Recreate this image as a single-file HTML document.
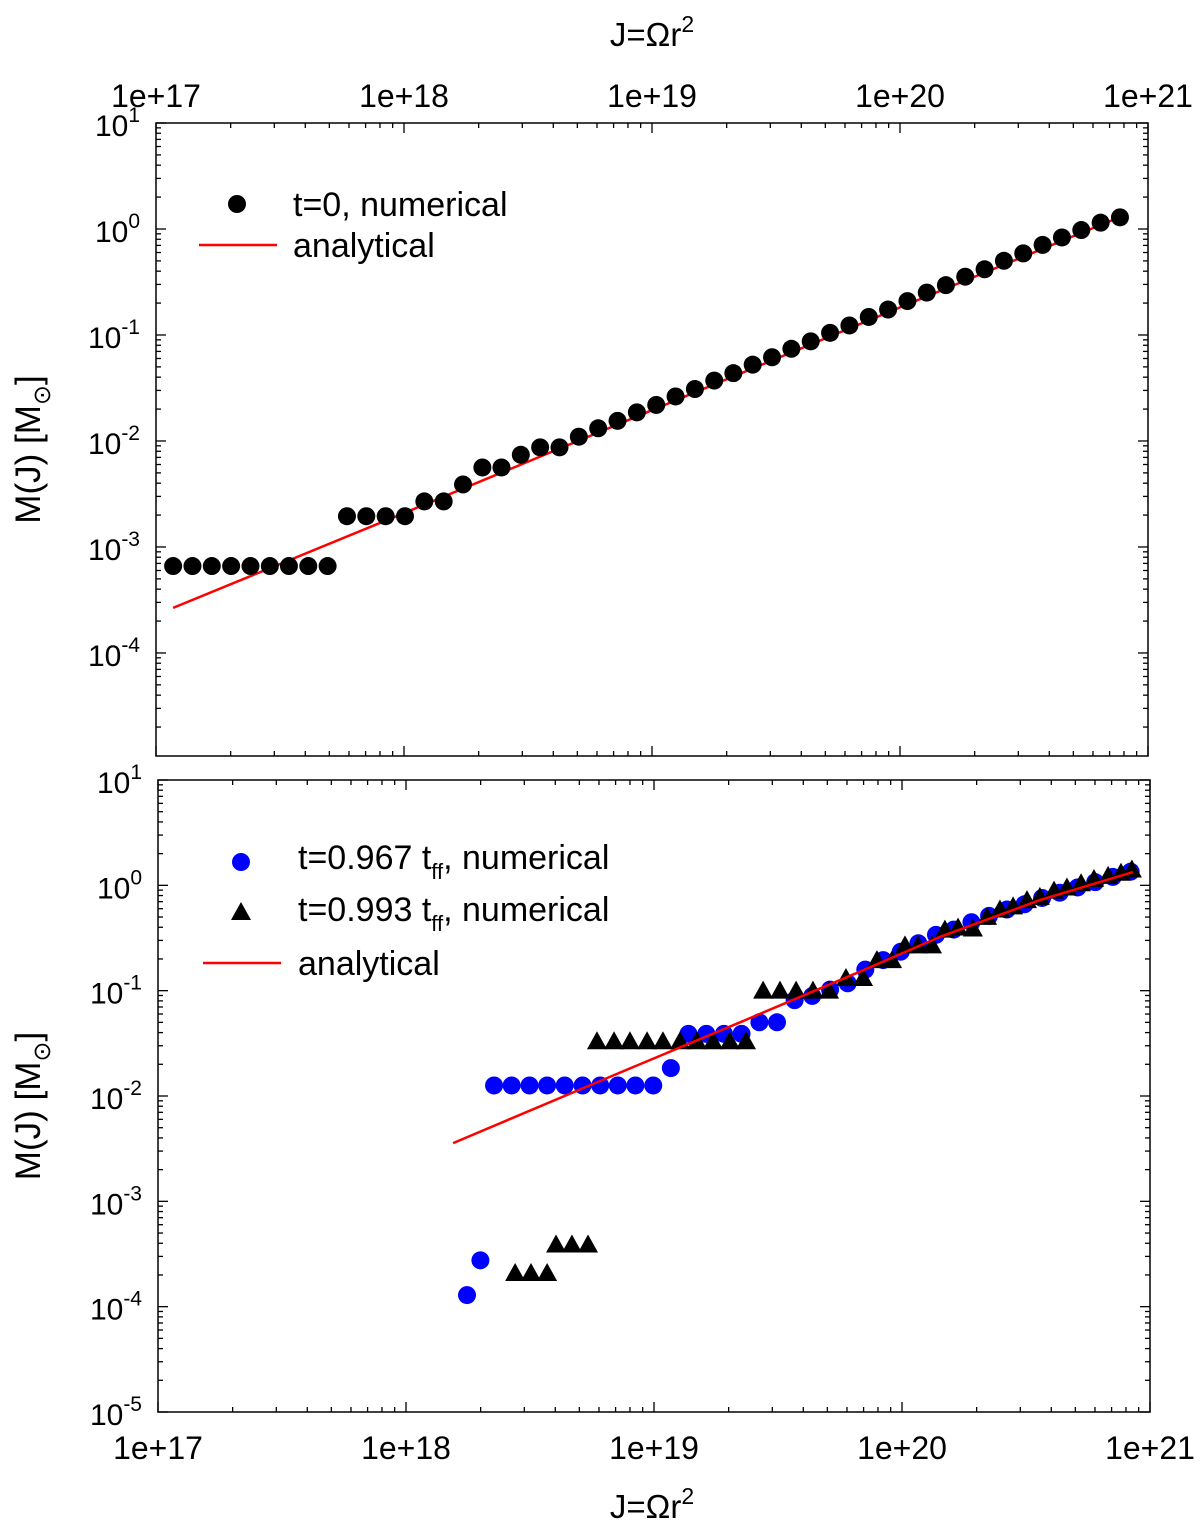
<!DOCTYPE html>
<html><head><meta charset="utf-8"><style>
html,body{margin:0;padding:0;background:#fff}
svg text{font-family:"Liberation Sans",Arial,sans-serif;fill:#000}
</style></head><body>
<svg id="chart" width="1200" height="1533" xmlns="http://www.w3.org/2000/svg"></svg>
<script>
// Top panel data (log10 J, log10 M)
const topJ=[17.069,17.147,17.225,17.303,17.381,17.459,17.536,17.614,17.692,17.770,17.848,17.926,18.004,18.082,18.160,18.238,18.316,18.393,18.471,18.549,18.627,18.705,18.783,18.861,18.939,19.017,19.095,19.173,19.251,19.328,19.406,19.484,19.562,19.640,19.718,19.796,19.874,19.952,20.030,20.108,20.185,20.263,20.341,20.419,20.497,20.575,20.653,20.731,20.809,20.887];
const topM=[-3.18,-3.18,-3.18,-3.18,-3.18,-3.18,-3.18,-3.18,-3.18,-2.71,-2.71,-2.71,-2.71,-2.57,-2.57,-2.41,-2.25,-2.25,-2.13,-2.06,-2.06,-1.96,-1.88,-1.81,-1.73,-1.66,-1.58,-1.51,-1.43,-1.36,-1.28,-1.21,-1.13,-1.06,-0.98,-0.91,-0.83,-0.76,-0.68,-0.60,-0.53,-0.45,-0.38,-0.30,-0.23,-0.15,-0.08,-0.01,0.06,0.11];
const topAnaJ=[17.069,18.0,19.0,20.0,20.887];
const topAnaM=[-3.575,-2.68,-1.71,-0.74,0.113];
// Bottom panel data
const blueJ=[18.246,18.300,18.355,18.426,18.498,18.569,18.640,18.712,18.783,18.854,18.925,18.997,19.068,19.139,19.211,19.282,19.353,19.425,19.496,19.567,19.638,19.710,19.781,19.852,19.924,19.995,20.066,20.137,20.209,20.280,20.351,20.423,20.494,20.565,20.636,20.708,20.779,20.850,20.922];
const blueM=[-3.89,-3.56,-1.90,-1.90,-1.90,-1.90,-1.90,-1.90,-1.90,-1.90,-1.90,-1.90,-1.735,-1.41,-1.41,-1.41,-1.41,-1.30,-1.30,-1.09,-1.05,-0.99,-0.93,-0.80,-0.71,-0.63,-0.55,-0.47,-0.42,-0.35,-0.29,-0.23,-0.18,-0.12,-0.07,-0.02,0.03,0.08,0.13];
const triJ=[18.440,18.504,18.569,18.605,18.669,18.734,18.770,18.839,18.903,18.972,19.036,19.105,19.173,19.238,19.306,19.371,19.440,19.508,19.573,19.641,19.706,19.774,19.843,19.899,19.960,20.012,20.065,20.121,20.173,20.226,20.286,20.343,20.395,20.448,20.504,20.556,20.613,20.665,20.722,20.774,20.831,20.883,20.927];
const triM=[-3.68,-3.68,-3.68,-3.41,-3.41,-3.41,-1.48,-1.48,-1.48,-1.48,-1.48,-1.48,-1.48,-1.48,-1.48,-1.48,-1.00,-1.00,-1.00,-1.00,-1.00,-0.88,-0.88,-0.71,-0.71,-0.57,-0.57,-0.57,-0.42,-0.40,-0.41,-0.30,-0.23,-0.20,-0.14,-0.11,-0.05,-0.02,0.02,0.06,0.09,0.12,0.15];
const botAnaJ=[18.190,18.81,19.347,19.83,20.153,20.556,20.931];
const botAnaM=[-2.447,-1.83,-1.30,-0.82,-0.49,-0.14,0.126];
const xTickLabels=["1e+17","1e+18","1e+19","1e+20","1e+21"];

const NS="http://www.w3.org/2000/svg";
const svg=document.getElementById('chart');
function el(tag,attrs,parent){const e=document.createElementNS(NS,tag);for(const k in attrs)e.setAttribute(k,attrs[k]);(parent||svg).appendChild(e);return e;}

function panel(P,name){
  const g=el('g',{});
  
  
  P.sx=v=>P.x0+(v-17)/4*(P.x1-P.x0);
  P.sy=v=>P.y1-(v-P.ymin)/(P.ymax-P.ymin)*(P.y1-P.y0);
  const fr=el('rect',{x:P.x0,y:P.y0,width:P.x1-P.x0,height:P.y1-P.y0,fill:'none',stroke:'#000','stroke-width':1.5},g);
  
  
  for(let d=17;d<=21;d++){
    for(let m=1;m<=9;m++){
      const v=d+Math.log10(m); if(v>21.0001) break;
      const x=P.sx(v), L=m==1?10:5;
      el('line',{x1:x,x2:x,y1:P.y1,y2:P.y1-L,stroke:'#000','stroke-width':1.3},g);
      el('line',{x1:x,x2:x,y1:P.y0,y2:P.y0+L,stroke:'#000','stroke-width':1.3},g);
    }
  }
  for(let d=Math.floor(P.ymin);d<=P.ymax;d++){
    for(let m=1;m<=9;m++){
      const v=d+Math.log10(m); if(v>P.ymax+0.0001) break; if(v<P.ymin) continue;
      const y=P.sy(v), L=m==1?10:5;
      el('line',{x1:P.x0,x2:P.x0+L,y1:y,y2:y,stroke:'#000','stroke-width':1.3},g);
      el('line',{x1:P.x1,x2:P.x1-L,y1:y,y2:y,stroke:'#000','stroke-width':1.3},g);
    }
    if(d<P.ymin-0.001) continue;
    const t=el('text',{x:P.x0-16,y:P.sy(d)+13,'font-size':30,'text-anchor':'end'},g);
    
    
    t.innerHTML='10<tspan dy="-14" font-size="21">'+d+'</tspan>';
  }
  xTickLabels.forEach((s,i)=>{
    const t=el('text',{x:P.sx(17+i),y:P.labelY,'font-size':32,'text-anchor':'middle'},g);
    
    
    t.textContent=s;
  });
  const yt=el('text',{transform:`translate(${P.ytx},${(P.y0+P.y1)/2+10}) rotate(-90)`,'font-size':35,'text-anchor':'middle'},g);
  
  
  yt.innerHTML='M(J) [M<tspan dy="10" font-size="24">⊙</tspan><tspan dy="-10">]</tspan>';
  return g;
}
function line(P,g,J,M,name){
  const d=J.map((v,i)=>(i?'L':'M')+P.sx(v).toFixed(1)+','+P.sy(M[i]).toFixed(1)).join('');
  const p=el('path',{d:d,fill:'none',stroke:'#f00','stroke-width':2.5},g);
  
  
}
function dots(P,g,J,M,color,name){
  J.forEach((v,i)=>{
    const c=el('circle',{cx:P.sx(v),cy:P.sy(M[i]),r:9,fill:color},g);
    
    
  });
}
function tris(P,g,J,M,name){
  J.forEach((v,i)=>{
    const x=P.sx(v),y=P.sy(M[i]);
    const t=el('polygon',{points:`${x-10},${y+8} ${x+10},${y+8} ${x},${y-10}`,fill:'#000'},g);
    
    
  });
}

const PT={x0:156,x1:1148,y0:123,y1:756,ymin:-4.972,ymax:1,labelY:107,ytx:40};
const gT=panel(PT,'top-panel');
line(PT,gT,topAnaJ,topAnaM,'analytical-line-top');
dots(PT,gT,topJ,topM,'#000','numerical-point-t0');

const PB={x0:158,x1:1150,y0:780,y1:1412,ymin:-5,ymax:1,labelY:1459,ytx:40};
const gB=panel(PB,'bottom-panel');
dots(PB,gB,blueJ,blueM,'#00f','numerical-point-t0967');
tris(PB,gB,triJ,triM,'numerical-point-t0993');
line(PB,gB,botAnaJ,botAnaM,'analytical-line-bottom');

function title(y,name){
  const t=el('text',{x:652,y:y,'font-size':33,'text-anchor':'middle'});
  
  
  t.innerHTML='J=Ωr<tspan dy="-14" font-size="23">2</tspan>';
}
title(46,'x-axis-title-top');
title(1518,'x-axis-title-bottom');

function legText(x,y,html,name){
  const t=el('text',{x:x,y:y,'font-size':34});
  
  
  t.innerHTML=html;
}
let c=el('circle',{cx:237,cy:204,r:9,fill:'#000'});


legText(293,216,'t=0, numerical','legend-entry-t0');
let l=el('line',{x1:199,x2:277,y1:245,y2:245,stroke:'#f00','stroke-width':2.5});


legText(293,257,'analytical','legend-entry-analytical-top');

c=el('circle',{cx:241,cy:862,r:9,fill:'#00f'});


legText(298,869,'t=0.967 t<tspan dy="10" font-size="22">ff</tspan><tspan dy="-10">, numerical</tspan>','legend-entry-t0967');
let p=el('polygon',{points:'231,920 251,920 241,902',fill:'#000'});


legText(298,921,'t=0.993 t<tspan dy="10" font-size="22">ff</tspan><tspan dy="-10">, numerical</tspan>','legend-entry-t0993');
l=el('line',{x1:203,x2:281,y1:963,y2:963,stroke:'#f00','stroke-width':2.5});


legText(298,975,'analytical','legend-entry-analytical-bottom');
</script>
</body></html>
